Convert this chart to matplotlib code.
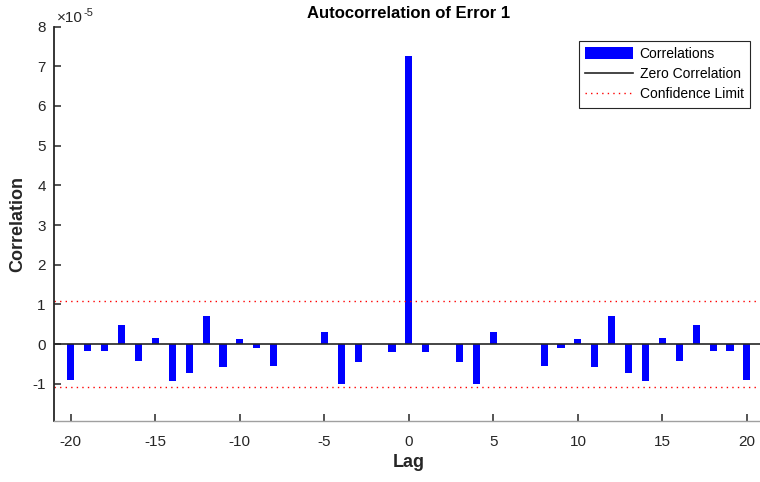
import matplotlib.pyplot as plt
import numpy as np
from matplotlib.ticker import FuncFormatter

plt.rcParams["font.family"] = ["Liberation Sans", "DejaVu Sans"]
plt.rcParams["axes.unicode_minus"] = False

# values in units of 1e-5
lags = np.arange(-20, 21)
half = [0.31, -1.00, -0.45, 0.0, -0.19]  # -5 .. -1
corr_neg = [-0.90, -0.17, -0.17, 0.49, -0.42, 0.16, -0.93, -0.72, 0.72, -0.57,
            0.13, -0.09, -0.55, 0.0, 0.0] + half
corr_zero = 7.25
corr = np.array(corr_neg + [corr_zero] + corr_neg[::-1]) * 1e-5
conf_limit = 1.08e-5
scale = 1e-5

ink = "#262626"

fig = plt.figure(figsize=(7.6, 4.82), dpi=100)
ax = fig.add_axes([0.071, 0.127, 0.934, 0.818])

bars = ax.bar(lags, corr, width=0.42, color="#0000ff", label="Correlations", zorder=2)
zline = ax.axhline(0, color=ink, lw=1.2, label="Zero Correlation", zorder=3)
cline = ax.axhline(conf_limit, color="#ff0000", lw=1.0, ls=(0, (1, 3)),
                   label="Confidence Limit")
ax.axhline(-conf_limit, color="#ff0000", lw=1.0, ls=(0, (1, 3)))

ax.set_xlim(-21, 21)
ax.set_ylim(-1.93 * scale, 8 * scale)
ax.set_xticks(np.arange(-20, 21, 5))
ax.set_yticks(np.arange(-1, 9) * scale)
ax.yaxis.set_major_formatter(FuncFormatter(lambda v, p: f"{v / scale:.0f}"))

for side in ["top", "right"]:
    ax.spines[side].set_visible(False)
ax.spines["left"].set_color(ink)
ax.spines["left"].set_linewidth(1.3)
ax.spines["bottom"].set_color("#a0a0a0")
ax.spines["bottom"].set_linewidth(1.0)
ax.tick_params(direction="in", length=5, width=1.1, color=ink,
               labelcolor=ink, labelsize=11)
ax.tick_params(axis="x", pad=10)
ax.tick_params(axis="y", pad=6)

# exponent label, MATLAB style
ax.text(0.004, 1.004, "\u00d710", transform=ax.transAxes,
        fontsize=11, color=ink, va="bottom", ha="left")
ax.text(0.042, 1.022, "-5", transform=ax.transAxes,
        fontsize=8, color=ink, va="bottom", ha="left")

ax.set_title("Autocorrelation of Error 1", fontsize=12, fontweight="bold",
             color="black", pad=6)
ax.set_xlabel("Lag", fontsize=13, fontweight="bold", color=ink, labelpad=4)
ax.set_ylabel("Correlation", fontsize=13, fontweight="bold", color=ink, labelpad=4)

leg = ax.legend([bars, zline, cline],
                ["Correlations", "Zero Correlation", "Confidence Limit"],
                loc="upper right", bbox_to_anchor=(0.99, 0.982), fontsize=10,
                frameon=True, fancybox=False, edgecolor=ink, framealpha=1,
                handlelength=3.4, handleheight=0.9, borderpad=0.45,
                labelspacing=0.45, handletextpad=0.5)
leg.get_frame().set_linewidth(0.8)

fig.savefig("out.png", dpi=100)
